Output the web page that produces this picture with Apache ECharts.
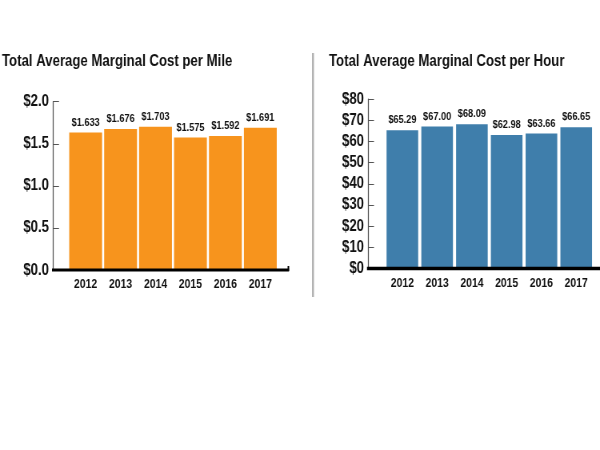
<!DOCTYPE html>
<html>
<head>
<meta charset="utf-8">
<script src="https://cdn.jsdelivr.net/npm/echarts@6/dist/echarts.min.js"></script>
<style>
html,body{margin:0;padding:0;background:#fff;overflow:hidden}
#wrap{width:600px;height:450px;overflow:hidden}
/* chart drawn 25% wider and squeezed back to mimic a condensed typeface */
#c{width:750px;height:450px;transform:scaleX(0.8);transform-origin:0 0}
</style>
</head>
<body>
<div id="wrap"><div id="c"></div></div>
<script>
const years = ['2012', '2013', '2014', '2015', '2016', '2017'];
const costPerMile = [1.633, 1.676, 1.703, 1.575, 1.592, 1.691];
const costPerHour = [65.29, 67.00, 68.09, 62.98, 63.66, 66.65];
const titleMile = 'Total Average Marginal Cost per Mile';
const titleHour = 'Total Average Marginal Cost per Hour';

const FONT = "'Liberation Sans', Arial, sans-serif";
const INK = '#111111';
const ORANGE = '#F7941D';
const BLUE = '#3F7EAB';
const SX = 1.25; // horizontal stretch factor (undone by CSS scaleX 0.8)

const chart = echarts.init(document.getElementById('c'));

function yAxisCfg(idx, max, interval, fmt, offset) {
  return {
    type: 'value', gridIndex: idx, min: 0, max: max, interval: interval, offset: offset,
    axisLine: {show: true, lineStyle: {color: '#555', width: 1.25}},
    axisTick: {show: true, inside: true, length: 6 * SX, lineStyle: {color: '#555'}},
    splitLine: {show: false},
    axisLabel: {color: INK, fontFamily: FONT, fontWeight: 'bold', fontSize: 16.5, margin: 4 * SX, formatter: fmt}
  };
}
function xAxisCfg(idx) {
  return {
    type: 'category', gridIndex: idx, data: years,
    axisLine: {show: false}, axisTick: {show: false},
    axisLabel: {interval: 0, color: INK, fontFamily: FONT, fontWeight: 'bold', fontSize: 13, margin: 8}
  };
}

chart.setOption({
  animation: false,
  title: [
    {text: titleMile, left: 2 * SX, top: 53, padding: 0, textStyle: {fontFamily: FONT, fontWeight: 'bold', fontSize: 16.5, color: INK}},
    {text: titleHour, left: 329 * SX, top: 53, padding: 0, textStyle: {fontFamily: FONT, fontWeight: 'bold', fontSize: 16.5, color: INK}}
  ],
  grid: [
    {left: 68.2 * SX, top: 101.7, width: 209.6 * SX, height: 168.3, outerBoundsMode: 'none', containLabel: false},
    {left: 385 * SX, top: 99, width: 208.6 * SX, height: 169.5, outerBoundsMode: 'none', containLabel: false}
  ],
  xAxis: [xAxisCfg(0), xAxisCfg(1)],
  yAxis: [
    yAxisCfg(0, 2.0, 0.5, v => '$' + v.toFixed(1), 15.2 * SX),
    yAxisCfg(1, 80, 10, v => '$' + v, 17 * SX)
  ],
  series: [
    {
      type: 'bar', xAxisIndex: 0, yAxisIndex: 0, data: costPerMile, barCategoryGap: '6%',
      itemStyle: {color: ORANGE},
      label: {show: true, position: 'top', distance: 4, color: INK, fontFamily: FONT, fontWeight: 'bold', fontSize: 11.5,
        formatter: p => '$' + p.value.toFixed(3)}
    },
    {
      type: 'bar', xAxisIndex: 1, yAxisIndex: 1, data: costPerHour, barCategoryGap: '9%',
      itemStyle: {color: BLUE},
      label: {show: true, position: 'top', distance: 4, color: INK, fontFamily: FONT, fontWeight: 'bold', fontSize: 11.5,
        formatter: p => '$' + p.value.toFixed(2)}
    }
  ],
  graphic: [
    {type: 'line', shape: {x1: 313 * SX, y1: 53, x2: 313 * SX, y2: 297}, style: {stroke: '#b3b3b3', lineWidth: 2.5}},
    {type: 'line', shape: {x1: 52 * SX, y1: 270, x2: 289 * SX, y2: 270}, style: {stroke: '#000', lineWidth: 3}, z: 10},
    {type: 'line', shape: {x1: 288.4 * SX, y1: 271, x2: 288.4 * SX, y2: 266}, style: {stroke: '#000', lineWidth: 2}, z: 10},
    {type: 'line', shape: {x1: 367 * SX, y1: 268.5, x2: 750, y2: 268.5}, style: {stroke: '#000', lineWidth: 3.5}, z: 10}
  ]
});
</script>
</body>
</html>
